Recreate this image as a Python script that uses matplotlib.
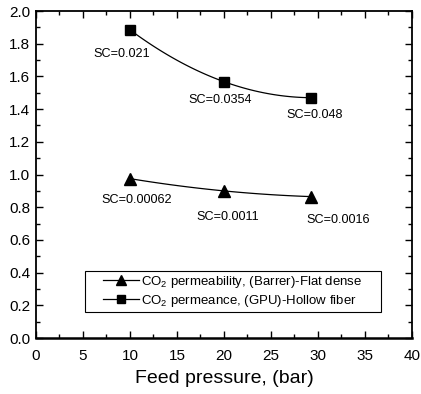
import numpy as np
import matplotlib.pyplot as plt
from matplotlib.ticker import MultipleLocator
from matplotlib.patches import Rectangle

plt.rcParams['font.family'] = ['Liberation Sans', 'DejaVu Sans']
plt.rcParams['mathtext.fontset'] = 'custom'
plt.rcParams['mathtext.rm'] = 'Liberation Sans'
plt.rcParams['mathtext.it'] = 'Liberation Sans'

# data
pressure = [10, 20, 29.3]
permeability = [0.975, 0.90, 0.865]   # flat dense, Barrer
permeance = [1.885, 1.568, 1.47]      # hollow fiber, GPU
sc_perm = ['SC=0.00062', 'SC=0.0011', 'SC=0.0016']
sc_perm_pos = [(10.7, 0.845), (20.4, 0.74), (32.2, 0.72)]
sc_flux = ['SC=0.021', 'SC=0.0354', 'SC=0.048']
sc_flux_pos = [(9.15, 1.737), (19.6, 1.456), (29.6, 1.364)]

fig = plt.figure(figsize=(4.21, 3.94), dpi=100)
ax = fig.add_axes([0.0855, 0.142, 0.893, 0.830])

# smooth curves through the points
xs = np.linspace(pressure[0], pressure[-1], 100)
c1 = np.polyfit(pressure, permeability, 2)
c2 = np.polyfit(pressure, permeance, 2)
ax.plot(xs, np.polyval(c1, xs), color='black', lw=0.9)
ax.plot(xs, np.polyval(c2, xs), color='black', lw=0.9)

ax.plot(pressure, permeability, linestyle='none', marker='^', ms=8, color='black')
ax.plot(pressure, permeance, linestyle='none', marker='s', ms=7, color='black')
# legend proxies (line + marker)
h1, = ax.plot([], [], '-^', color='black', lw=0.9, ms=7)
h2, = ax.plot([], [], '-s', color='black', lw=0.9, ms=6)

for txt, (x, y) in zip(sc_perm, sc_perm_pos):
    ax.text(x, y, txt, fontsize=9.1, ha='center', va='center')
for txt, (x, y) in zip(sc_flux, sc_flux_pos):
    ax.text(x, y, txt, fontsize=9.1, ha='center', va='center')

# legend box drawn by hand, legend centred inside it
box = (0.13, 0.08, 0.787, 0.125)
ax.add_patch(Rectangle(box[:2], box[2], box[3], transform=ax.transAxes,
                       fill=False, edgecolor='black', lw=0.8, zorder=5))
leg = ax.legend([h1, h2],
                ['CO$_2$ permeability, (Barrer)-Flat dense',
                 'CO$_2$ permeance, (GPU)-Hollow fiber'],
                loc='center', bbox_to_anchor=box,
                fontsize=9.5, frameon=False,
                handlelength=2.7, handletextpad=0.15,
                borderpad=0, labelspacing=0.25, borderaxespad=0)
for t in leg.get_texts():
    t.set_ha('left')
leg._legend_box.align = 'left'

ax.set_xlim(0, 40)
ax.set_ylim(0, 2.0)
ax.xaxis.set_major_locator(MultipleLocator(5))
ax.xaxis.set_minor_locator(MultipleLocator(2.5))
ax.yaxis.set_major_locator(MultipleLocator(0.2))
ax.yaxis.set_minor_locator(MultipleLocator(0.1))
ax.yaxis.set_major_formatter(plt.FormatStrFormatter('%.1f'))
ax.tick_params(which='both', direction='in', top=True, right=True, labelsize=11)
ax.tick_params(which='major', length=5, width=1)
ax.tick_params(which='minor', length=3, width=1)
ax.tick_params(axis='x', which='major', pad=8)
ax.tick_params(axis='y', which='major', pad=4)
for s in ax.spines.values():
    s.set_linewidth(1.3)
ax.spines['bottom'].set_linewidth(1.8)

ax.set_xlabel('Feed pressure, (bar)', fontsize=14, labelpad=5)

fig.savefig('out.png', dpi=100)
